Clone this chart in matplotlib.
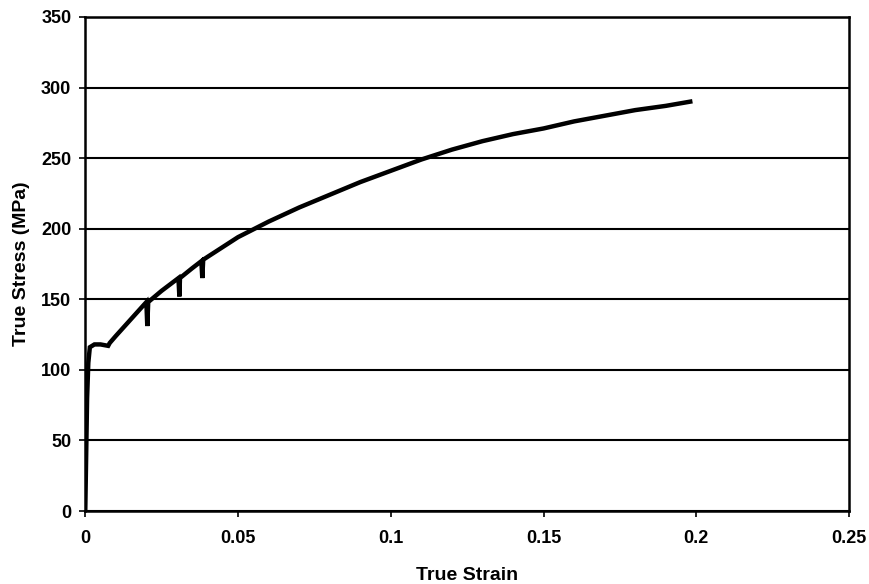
import matplotlib.pyplot as plt

plt.rcParams['font.family'] = ['Liberation Sans', 'DejaVu Sans']
plt.rcParams['font.weight'] = 'bold'

# 读取自图中的真应力-真应变曲线
strain = [0.0, 0.0003, 0.0006, 0.001, 0.0015, 0.003, 0.005, 0.0075, 0.008,
          0.01, 0.015, 0.02, 0.0203, 0.0206, 0.025, 0.0305, 0.0308, 0.031,
          0.035, 0.038, 0.0383, 0.0386, 0.04, 0.045, 0.05, 0.06, 0.07, 0.08,
          0.09, 0.10, 0.11, 0.12, 0.13, 0.14, 0.15, 0.16, 0.17, 0.18, 0.19,
          0.198]
stress = [0, 40, 80, 105, 116, 118, 118, 117, 119,
          124, 136, 148, 131, 148, 156, 165, 152, 165,
          172, 177, 165, 178, 180, 187, 194, 205, 215, 224,
          233, 241, 249, 256, 262, 267, 271, 276, 280, 284, 287,
          290]

fig, ax = plt.subplots(figsize=(8.7, 5.84), dpi=100)
fig.subplots_adjust(left=0.098, right=0.976, top=0.971, bottom=0.125)

ax.plot(strain, stress, color='black', linewidth=3.2, solid_joinstyle='miter')

ax.set_xlim(0, 0.25)
ax.set_ylim(0, 350)
ax.set_xticks([0, 0.05, 0.1, 0.15, 0.2, 0.25])
ax.set_xticklabels(['0', '0.05', '0.1', '0.15', '0.2', '0.25'])
ax.set_yticks(range(0, 351, 50))
ax.yaxis.grid(True, color='black', linewidth=1.5)
ax.set_axisbelow(True)
for s in ax.spines.values():
    s.set_linewidth(1.8)
ax.tick_params(direction='out', length=4, width=1.2, labelsize=13)
ax.tick_params(axis='x', pad=10)
ax.tick_params(axis='y', pad=6)

ax.set_xlabel('True Strain', fontsize=14, fontweight='bold', labelpad=14)
ax.set_ylabel('True Stress (MPa)', fontsize=14, fontweight='bold', labelpad=8)

plt.savefig('out.png', dpi=100)
